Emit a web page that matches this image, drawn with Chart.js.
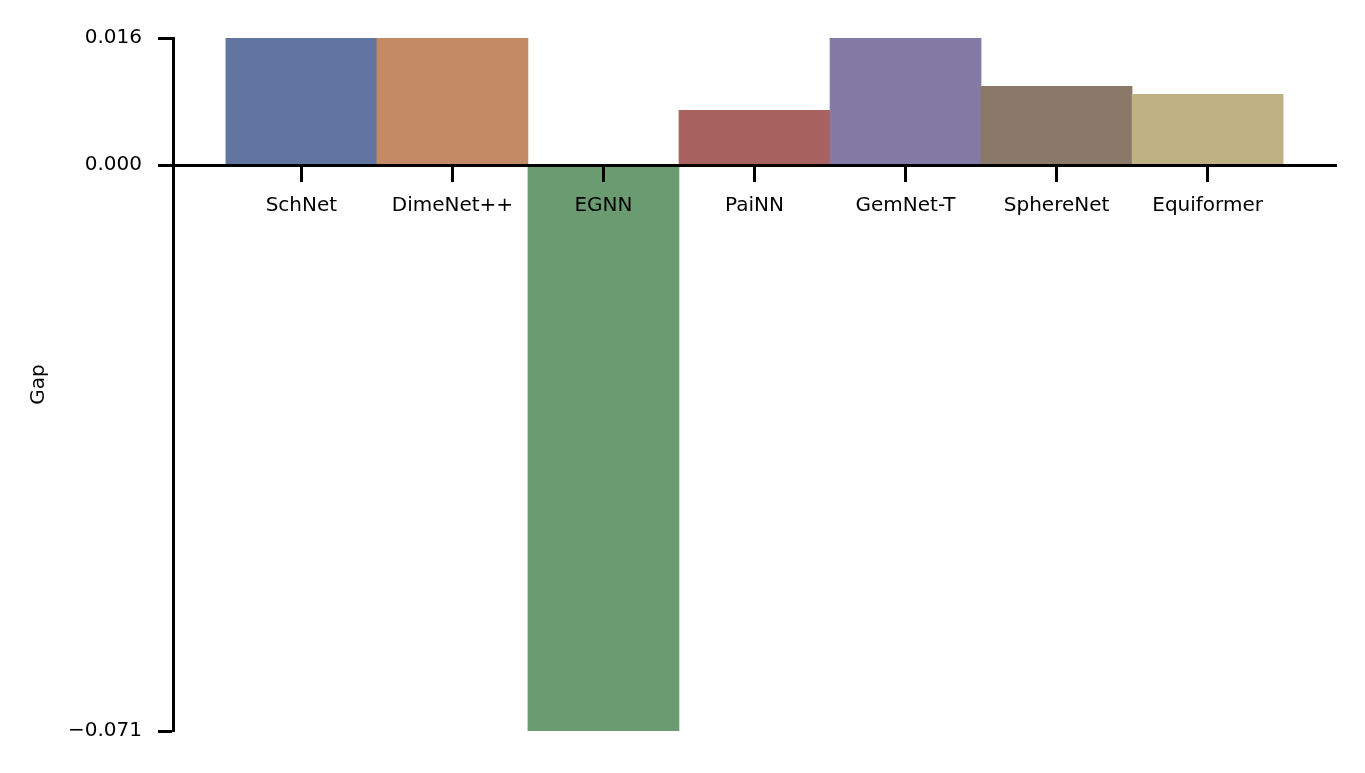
<!DOCTYPE html>
<html lang="en">
<head>
  <meta charset="UTF-8">
  <title>Gap</title>
  <script src="https://cdn.jsdelivr.net/npm/chart.js"></script>
  <style>
    html, body { margin: 0; padding: 0; background: #fff; }
  </style>
</head>
<body>
  <canvas id="gapChart" width="1365" height="773"></canvas>

  <script>
    const models = ['SchNet', 'DimeNet++', 'EGNN', 'PaiNN', 'GemNet-T', 'SphereNet', 'Equiformer'];
    const gapValues = [0.016, 0.016, -0.0713, 0.0069, 0.016, 0.0099, 0.0089];
    const barColors = ['#6175a0', '#c28b66', '#6b9c71', '#a86361', '#837aa6', '#8a7868', '#bfb282'];
    const yTicks = [-0.0713, 0, 0.016];

    Chart.defaults.font.family = '"DejaVu Sans", sans-serif';
    Chart.defaults.font.size = 20;
    Chart.defaults.color = '#000';

    new Chart(document.getElementById('gapChart').getContext('2d'), {
      type: 'bar',
      data: {
        datasets: [{
          label: 'Gap',
          data: models.map((m, i) => ({ x: i, y: gapValues[i] })),
          backgroundColor: barColors,
          borderWidth: 0,
          barPercentage: 1,
          categoryPercentage: 1
        }]
      },
      options: {
        responsive: false,
        animation: false,
        layout: { padding: { left: 0, right: 29, top: 38, bottom: 42 } },
        plugins: { legend: { display: false }, tooltip: { enabled: false } },
        scales: {
          x: {
            type: 'linear',
            position: { y: 0 },
            offset: false,
            min: -0.85,
            max: 6.85,
            afterBuildTicks: s => { s.ticks = models.map((m, i) => ({ value: i })); },
            ticks: {
              autoSkip: false,
              maxRotation: 0,
              padding: 14,
              z: 1,
              callback: v => models[v]
            },
            grid: { offset: false, drawOnChartArea: false, drawTicks: true, tickLength: 15, tickWidth: 3, tickColor: '#000', z: 1 },
            border: { display: true, color: '#000', width: 3, z: 1 }
          },
          y: {
            min: yTicks[0],
            max: yTicks[2],
            afterBuildTicks: s => { s.ticks = yTicks.map(v => ({ value: v })); },
            afterFit: s => { s.width = 173; },
            ticks: {
              padding: 16,
              callback: v => v.toFixed(3).replace('-', '\u2212')
            },
            title: { display: true, text: 'Gap', padding: { top: 27, bottom: 0 } },
            grid: { drawOnChartArea: false, drawTicks: true, tickLength: 15, tickWidth: 3, tickColor: '#000', z: 1 },
            border: { display: true, color: '#000', width: 3, z: 1 }
          }
        }
      }
    });
  </script>
</body>
</html>
